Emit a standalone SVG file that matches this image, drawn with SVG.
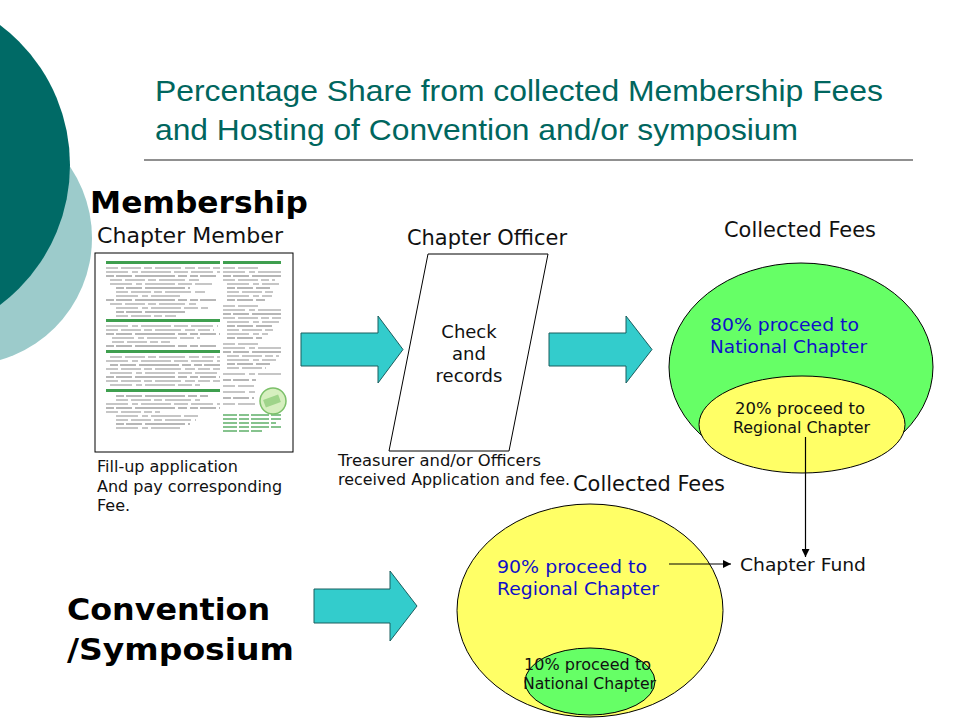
<svg xmlns="http://www.w3.org/2000/svg" width="960" height="720" viewBox="0 0 960 720">
<defs>
<style>
.title{font-family:"Liberation Sans",Arial,sans-serif;font-size:30px;fill:#00665E}
.v{font-family:"DejaVu Sans",Verdana,sans-serif;fill:#111}
.hb{font-family:"DejaVu Sans",Verdana,sans-serif;font-weight:bold;font-size:31px;fill:#000}
.blue{fill:#1010C8}
.block{fill:#33CCCC;stroke:#1B5E5E;stroke-width:1}
.ln{stroke:#000;stroke-width:1.2;fill:none}
.t1{stroke:#b4b4b4;stroke-width:1.3;stroke-dasharray:12 3 20 3 8 3 26 4 10 3}
.t2{stroke:#b4b4b4;stroke-width:1.3;stroke-dasharray:22 4 6 3 30 3 14 3}
.t3{stroke:#a0a0a0;stroke-width:1.3;stroke-dasharray:8 2 16 3 40 3 9 3}
.tg{stroke:#5fb06a;stroke-width:1.3;stroke-dasharray:14 2 10 2 18 2}
.gbar{fill:#3f9f4f}
</style>
<marker id="ah" viewBox="0 0 10 10" refX="10" refY="5" markerWidth="8" markerHeight="8" markerUnits="userSpaceOnUse" orient="auto">
<path d="M0,0 L10,5 L0,10 z" fill="#000"/>
</marker>
</defs>

<g id="background">
<circle cx="-35" cy="238" r="127" fill="#9CCBCB"/>
<circle cx="-105" cy="165" r="175" fill="#006A66"/>
</g>

<g id="title">
<text class="title" x="155" y="101" textLength="728" lengthAdjust="spacingAndGlyphs">Percentage Share from collected Membership Fees</text>
<text class="title" x="155" y="140" textLength="643" lengthAdjust="spacingAndGlyphs">and Hosting of Convention and/or symposium</text>
<line x1="144" y1="160" x2="913" y2="160" stroke="#222" stroke-width="1.2"/>
</g>

<g id="headings">
<text class="hb" x="90" y="213" textLength="218" lengthAdjust="spacingAndGlyphs">Membership</text>
<text class="hb" x="67" y="620" font-size="32" textLength="203" lengthAdjust="spacingAndGlyphs">Convention</text>
<text class="hb" x="67" y="660" font-size="32" textLength="227" lengthAdjust="spacingAndGlyphs">/Symposium</text>
</g>

<g id="chapter-member">
<text class="v" x="97" y="243" font-size="22" textLength="186" lengthAdjust="spacingAndGlyphs">Chapter Member</text>
<rect x="95" y="253" width="198" height="199" fill="#fff" stroke="#000" stroke-width="1"/>
<rect class="gbar" x="106" y="261" width="114" height="3"/>
<rect class="gbar" x="106" y="319" width="114" height="3"/>
<rect class="gbar" x="106" y="350" width="114" height="3"/>
<rect class="gbar" x="106" y="389" width="114" height="3"/>
<rect class="gbar" x="223" y="261" width="58" height="3"/>
<g>
<line class="t1" x1="106" y1="268" x2="220" y2="268"/>
<line class="t2" x1="106" y1="272" x2="220" y2="272"/>
<line class="t3" x1="106" y1="276" x2="218" y2="276"/>
<line class="t1" x1="110" y1="280" x2="200" y2="280"/>
<line class="t2" x1="110" y1="284" x2="212" y2="284"/>
<line class="t3" x1="116" y1="288" x2="190" y2="288"/>
<line class="t1" x1="116" y1="292" x2="205" y2="292"/>
<line class="t2" x1="116" y1="296" x2="180" y2="296"/>
<line class="t3" x1="106" y1="300" x2="216" y2="300"/>
<line class="t1" x1="110" y1="304" x2="196" y2="304"/>
<line class="t2" x1="116" y1="308" x2="208" y2="308"/>
<line class="t3" x1="116" y1="312" x2="186" y2="312"/>
<line class="t1" x1="116" y1="316" x2="176" y2="316"/>
<line class="t2" x1="106" y1="326" x2="218" y2="326"/>
<line class="t1" x1="106" y1="330" x2="214" y2="330"/>
<line class="t3" x1="106" y1="334" x2="220" y2="334"/>
<line class="t2" x1="112" y1="338" x2="200" y2="338"/>
<line class="t1" x1="112" y1="342" x2="170" y2="342"/>
<line class="t3" x1="106" y1="346" x2="218" y2="346"/>
<line class="t1" x1="110" y1="357" x2="220" y2="357"/>
<line class="t2" x1="106" y1="361" x2="220" y2="361"/>
<line class="t3" x1="110" y1="365" x2="220" y2="365"/>
<line class="t1" x1="106" y1="369" x2="220" y2="369"/>
<line class="t2" x1="110" y1="373" x2="218" y2="373"/>
<line class="t3" x1="106" y1="377" x2="220" y2="377"/>
<line class="t1" x1="106" y1="381" x2="220" y2="381"/>
<line class="t2" x1="110" y1="385" x2="200" y2="385"/>
<line class="t3" x1="116" y1="396" x2="210" y2="396"/>
<line class="t1" x1="116" y1="400" x2="200" y2="400"/>
<line class="t2" x1="106" y1="404" x2="220" y2="404"/>
<line class="t3" x1="106" y1="408" x2="220" y2="408"/>
<line class="t1" x1="106" y1="412" x2="160" y2="412"/>
<line class="t2" x1="116" y1="416" x2="200" y2="416"/>
<line class="t1" x1="116" y1="420" x2="196" y2="420"/>
<line class="t3" x1="116" y1="424" x2="190" y2="424"/>
<line class="t2" x1="116" y1="428" x2="180" y2="428"/>
<line class="t1" x1="223" y1="268" x2="260" y2="268"/>
<line class="t2" x1="223" y1="272" x2="281" y2="272"/>
<line class="t3" x1="223" y1="276" x2="281" y2="276"/>
<line class="t1" x1="223" y1="280" x2="275" y2="280"/>
<line class="t2" x1="227" y1="284" x2="279" y2="284"/>
<line class="t3" x1="227" y1="288" x2="270" y2="288"/>
<line class="t1" x1="227" y1="292" x2="276" y2="292"/>
<line class="t2" x1="227" y1="296" x2="272" y2="296"/>
<line class="t3" x1="227" y1="300" x2="265" y2="300"/>
<line class="t1" x1="223" y1="306" x2="258" y2="306"/>
<line class="t2" x1="223" y1="310" x2="281" y2="310"/>
<line class="t3" x1="223" y1="314" x2="281" y2="314"/>
<line class="t1" x1="223" y1="318" x2="281" y2="318"/>
<line class="t2" x1="227" y1="322" x2="279" y2="322"/>
<line class="t3" x1="227" y1="326" x2="272" y2="326"/>
<line class="t1" x1="227" y1="330" x2="276" y2="330"/>
<line class="t2" x1="227" y1="334" x2="268" y2="334"/>
<line class="t3" x1="227" y1="338" x2="262" y2="338"/>
<line class="t1" x1="223" y1="344" x2="258" y2="344"/>
<line class="t2" x1="223" y1="348" x2="281" y2="348"/>
<line class="t3" x1="223" y1="352" x2="281" y2="352"/>
<line class="t1" x1="227" y1="356" x2="279" y2="356"/>
<line class="t2" x1="227" y1="360" x2="276" y2="360"/>
<line class="t3" x1="227" y1="364" x2="270" y2="364"/>
<line class="t1" x1="227" y1="368" x2="266" y2="368"/>
<line class="t2" x1="223" y1="374" x2="281" y2="374"/>
<line class="t3" x1="223" y1="380" x2="256" y2="380"/>
<line class="t1" x1="223" y1="386" x2="254" y2="386"/>
<line class="t2" x1="223" y1="392" x2="256" y2="392"/>
<line class="t3" x1="223" y1="398" x2="254" y2="398"/>
<line class="t1" x1="223" y1="404" x2="255" y2="404"/>
<line class="tg" x1="223" y1="415" x2="281" y2="415"/>
<line class="tg" x1="223" y1="419" x2="281" y2="419"/>
<line class="tg" x1="223" y1="423" x2="276" y2="423"/>
<line class="tg" x1="223" y1="427" x2="281" y2="427"/>
<line class="tg" x1="223" y1="431" x2="262" y2="431"/>
</g>
<circle cx="273" cy="401" r="13" fill="#d6efbf" stroke="#7cc06a" stroke-width="1.5"/>
<rect x="264" y="397" width="16" height="8" fill="#9fd48a" transform="rotate(-20 272 401)"/>
<text class="v" x="97" y="472" font-size="16">Fill-up application</text>
<text class="v" x="97" y="491.5" font-size="16">And pay corresponding</text>
<text class="v" x="97" y="511" font-size="16">Fee.</text>
</g>

<g id="chapter-officer">
<text class="v" x="407" y="245" font-size="21" textLength="160" lengthAdjust="spacingAndGlyphs">Chapter Officer</text>
<polygon points="428,254 548,254 509,451 389,451" fill="#fff" stroke="#000" stroke-width="1"/>
<text class="v" x="469" y="338" font-size="18" text-anchor="middle">Check</text>
<text class="v" x="469" y="360" font-size="18" text-anchor="middle">and</text>
<text class="v" x="469" y="382" font-size="18" text-anchor="middle">records</text>
<text class="v" x="338" y="466" font-size="15" textLength="203" lengthAdjust="spacingAndGlyphs">Treasurer and/or Officers</text>
<text class="v" x="338" y="485" font-size="15" textLength="232" lengthAdjust="spacingAndGlyphs">received Application and fee.</text>
</g>

<g id="membership-fees">
<text class="v" x="724" y="237" font-size="20.5" textLength="152" lengthAdjust="spacingAndGlyphs">Collected Fees</text>
<ellipse cx="801" cy="367" rx="132" ry="104" fill="#66FF66" stroke="#000" stroke-width="1"/>
<text class="v blue" x="710" y="331" font-size="18" textLength="149" lengthAdjust="spacingAndGlyphs">80% proceed to</text>
<text class="v blue" x="710" y="353" font-size="18" textLength="157" lengthAdjust="spacingAndGlyphs">National Chapter</text>
<ellipse cx="802" cy="424.5" rx="103" ry="48.5" fill="#FFFF66" stroke="#000" stroke-width="1"/>
<text class="v" x="800" y="414" font-size="15.5" text-anchor="middle" fill="#222" textLength="130" lengthAdjust="spacingAndGlyphs">20% proceed to</text>
<text class="v" x="801.5" y="433" font-size="15.5" text-anchor="middle" fill="#222" textLength="137" lengthAdjust="spacingAndGlyphs">Regional Chapter</text>
</g>

<g id="chapter-fund">
<text class="v" x="740" y="571" font-size="18" textLength="126" lengthAdjust="spacingAndGlyphs">Chapter Fund</text>
</g>

<g id="convention-fees">
<text class="v" x="573" y="491" font-size="20.5" textLength="152" lengthAdjust="spacingAndGlyphs">Collected Fees</text>
<ellipse cx="590" cy="610.5" rx="133" ry="106.5" fill="#FFFF66" stroke="#000" stroke-width="1"/>
<text class="v blue" x="497" y="573" font-size="18" textLength="150" lengthAdjust="spacingAndGlyphs">90% proceed to</text>
<text class="v blue" x="497" y="595" font-size="18" textLength="162" lengthAdjust="spacingAndGlyphs">Regional Chapter</text>
<ellipse cx="590" cy="681.5" rx="65" ry="33.5" fill="#66FF66" stroke="#000" stroke-width="1"/>
<text class="v" x="587.5" y="670" font-size="15" text-anchor="middle" fill="#222" textLength="127" lengthAdjust="spacingAndGlyphs">10% proceed to</text>
<text class="v" x="589.5" y="689" font-size="15" text-anchor="middle" fill="#222" textLength="133" lengthAdjust="spacingAndGlyphs">National Chapter</text>
</g>

<g id="connectors">
<polygon class="block" points="301,333 378,333 378,316 403,349.5 378,383 378,366 301,366"/>
<polygon class="block" points="549,333 626,333 626,316 652,349.5 626,383 626,366 549,366"/>
<polygon class="block" points="314,589 390,589 390,571 417,606 390,641 390,623 314,623"/>
<line class="ln" x1="805.5" y1="437" x2="805.5" y2="557" marker-end="url(#ah)"/>
<line class="ln" x1="669" y1="564" x2="731" y2="564" marker-end="url(#ah)"/>
</g>
</svg>
